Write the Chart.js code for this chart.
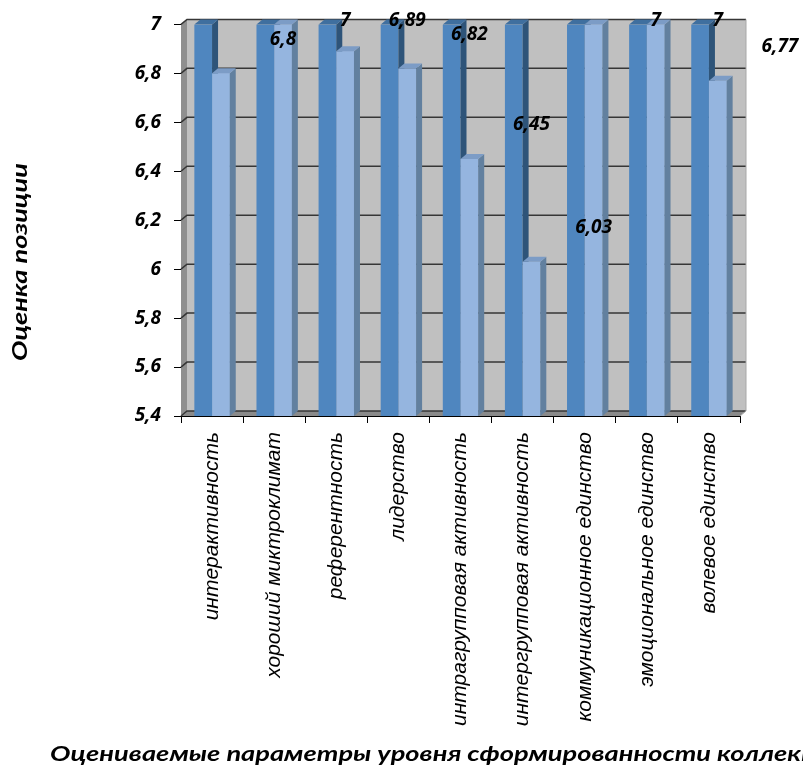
<!DOCTYPE html>
<html>
<head>
<meta charset="utf-8">
<script src="https://cdn.jsdelivr.net/npm/chart.js@4.4.1/dist/chart.umd.min.js"></script>
<style>
  html, body { margin: 0; padding: 0; background: #ffffff; }
  #wrap { width: 803px; height: 767px; }
</style>
</head>
<body>
<div id="wrap"><canvas id="chart" width="803" height="767"></canvas></div>
<script>
// Категории и значения
const categories = [
  'интерактивность',
  'хороший миктроклимат',
  'референтность',
  'лидерство',
  'интрагрупповая активность',
  'интергрупповая активность',
  'коммуникационное единство',
  'эмоциональное единство',
  'волевое единство'
];
const maxScore = [7, 7, 7, 7, 7, 7, 7, 7, 7];
const groupScore = [6.8, 7, 6.89, 6.82, 6.45, 6.03, 7, 7, 6.77];
const yMin = 5.4;
const yMax = 7;
const yStep = 0.2;

const yTitle = 'Оценка позиции';
const xTitle = 'Оцениваемые параметры уровня сформированности коллектива';

const DX = 6, DY = 5;           // глубина «объёмных» столбцов
const fmt = v => String(Math.round(v * 100) / 100).replace('.', ',');
const titleFont = 'italic bold 20px Lato, "Open Sans", sans-serif';
const TITLE_STRETCH = 1.36;

// боковая и верхняя грани столбца
function drawFaces(ctx, meta, ds, floor) {
  meta.data.forEach(el => {
    const { x, y, base, width } = el.getProps(['x', 'y', 'base', 'width'], true);
    const b = Math.min(base, floor);
    const l = x - width / 2, r = x + width / 2;
    ctx.fillStyle = ds.sideColor;
    ctx.beginPath();
    ctx.moveTo(r, y); ctx.lineTo(r + DX, y - DY);
    ctx.lineTo(r + DX, b - DY); ctx.lineTo(r, b);
    ctx.closePath(); ctx.fill();
    ctx.fillStyle = ds.topColor;
    ctx.beginPath();
    ctx.moveTo(l, y); ctx.lineTo(l + DX, y - DY);
    ctx.lineTo(r + DX, y - DY); ctx.lineTo(r, y);
    ctx.closePath(); ctx.fill();
  });
}

// Задняя стенка, боковая стенка, пол, сетка и грани столбцов
const wallPlugin = {
  id: 'wall',
  beforeDatasetsDraw(chart) {
    const { ctx, chartArea: { left, right, top, bottom } } = chart;
    const ys = chart.scales.y;
    ctx.save();
    ctx.fillStyle = '#c0c0c0';
    ctx.fillRect(left + DX, top - DY, right - left, bottom - top);
    // левая стенка
    ctx.fillStyle = '#8f8f8f';
    ctx.beginPath();
    ctx.moveTo(left, top); ctx.lineTo(left + DX, top - DY);
    ctx.lineTo(left + DX, bottom - DY); ctx.lineTo(left, bottom);
    ctx.closePath(); ctx.fill();
    // пол
    ctx.fillStyle = '#8a8a8a';
    ctx.beginPath();
    ctx.moveTo(left, bottom); ctx.lineTo(left + DX, bottom - DY);
    ctx.lineTo(right + DX, bottom - DY); ctx.lineTo(right, bottom);
    ctx.closePath(); ctx.fill();
    // линии сетки
    ctx.strokeStyle = '#363636';
    ctx.lineWidth = 1.5;
    ys.ticks.forEach(t => {
      const y = ys.getPixelForValue(t.value);
      ctx.beginPath();
      ctx.moveTo(left, y);
      ctx.lineTo(left + DX, y - DY);
      ctx.lineTo(right + DX, y - DY);
      ctx.stroke();
    });
    ctx.strokeStyle = '#a8a8a8';
    ctx.lineWidth = 1;
    ctx.beginPath();
    ctx.moveTo(right + DX, top - DY);
    ctx.lineTo(right + DX, bottom - DY);
    ctx.lineTo(right, bottom);
    ctx.stroke();
    ctx.restore();
  },
  afterDatasetsDraw(chart) {
    const { ctx, chartArea } = chart;
    const { left, right, top, bottom } = chartArea;
    ctx.save();
    ctx.beginPath();
    ctx.rect(left, top - DY - 2, right - left + DX + 2, bottom - top + DY + 2);
    ctx.clip();
    // сначала грани тёмных столбцов, затем светлые столбцы поверх
    drawFaces(ctx, chart.getDatasetMeta(0), chart.data.datasets[0], bottom);
    const lightMeta = chart.getDatasetMeta(1);
    lightMeta.data.forEach(el => el.draw(ctx, chartArea));
    drawFaces(ctx, lightMeta, chart.data.datasets[1], bottom);
    ctx.restore();
  },
  afterDraw(chart) {
    const { ctx } = chart;
    const xs = chart.scales.x, ys = chart.scales.y;
    ctx.save();
    // подписи значений
    const meta = chart.getDatasetMeta(1);
    const shift = xs.getPixelForValue(1) - xs.getPixelForValue(0);
    ctx.font = 'italic bold 19px "Open Sans", Lato, sans-serif';
    ctx.fillStyle = '#000';
    ctx.textAlign = 'center';
    ctx.textBaseline = 'middle';
    groupScore.forEach((v, i) => {
      const el = meta.data[i];
      const y = Math.max(ys.getPixelForValue(v) - 34, 21);
      ctx.fillText(fmt(v), el.x + shift, y);
    });
    // названия осей
    ctx.font = titleFont;
    ctx.save();
    ctx.translate(50, 755);
    ctx.scale(TITLE_STRETCH, 1);
    ctx.textAlign = 'left';
    ctx.fillText(xTitle, 0, 0);
    ctx.restore();
    ctx.translate(21, 262);
    ctx.rotate(-Math.PI / 2);
    ctx.scale(TITLE_STRETCH, 1);
    ctx.textAlign = 'center';
    ctx.fillText(yTitle, 0, 0);
    ctx.restore();
  }
};

new Chart(document.getElementById('chart'), {
  type: 'bar',
  data: {
    labels: categories,
    datasets: [
      {
        data: maxScore,
        backgroundColor: '#4f86bf',
        sideColor: '#2e5479',
        topColor: '#3f6f9f',
        barPercentage: 1,
        categoryPercentage: 0.57
      },
      {
        data: groupScore,
        backgroundColor: '#95b5df',
        sideColor: '#62809f',
        topColor: '#7c9cc6',
        barPercentage: 1,
        categoryPercentage: 0.57
      }
    ]
  },
  options: {
    responsive: false,
    animation: false,
    layout: { padding: { left: 0, right: 63, top: 24, bottom: 0 } },
    plugins: { legend: { display: false }, tooltip: { enabled: false } },
    scales: {
      x: {
        grid: { drawOnChartArea: false, drawTicks: true, tickLength: 7, color: '#000' },
        border: { color: '#000', width: 1 },
        ticks: {
          autoSkip: false, minRotation: 90, maxRotation: 90, padding: 9,
          color: '#000',
          font: { family: '"Liberation Sans", Arial, sans-serif', size: 21, style: 'italic' }
        },
        afterFit(scale) { scale.height = 351; }
      },
      y: {
        min: yMin, max: yMax,
        grid: { drawOnChartArea: false, drawTicks: true, tickLength: 7, color: '#000' },
        border: { color: '#000', width: 1 },
        ticks: {
          stepSize: yStep, padding: 13, color: '#000',
          font: { family: '"Open Sans", Lato, sans-serif', size: 19, style: 'italic', weight: 'bold' },
          callback: v => fmt(v)
        },
        afterFit(scale) { scale.width = 181; }
      }
    }
  },
  plugins: [wallPlugin]
});
</script>
</body>
</html>
